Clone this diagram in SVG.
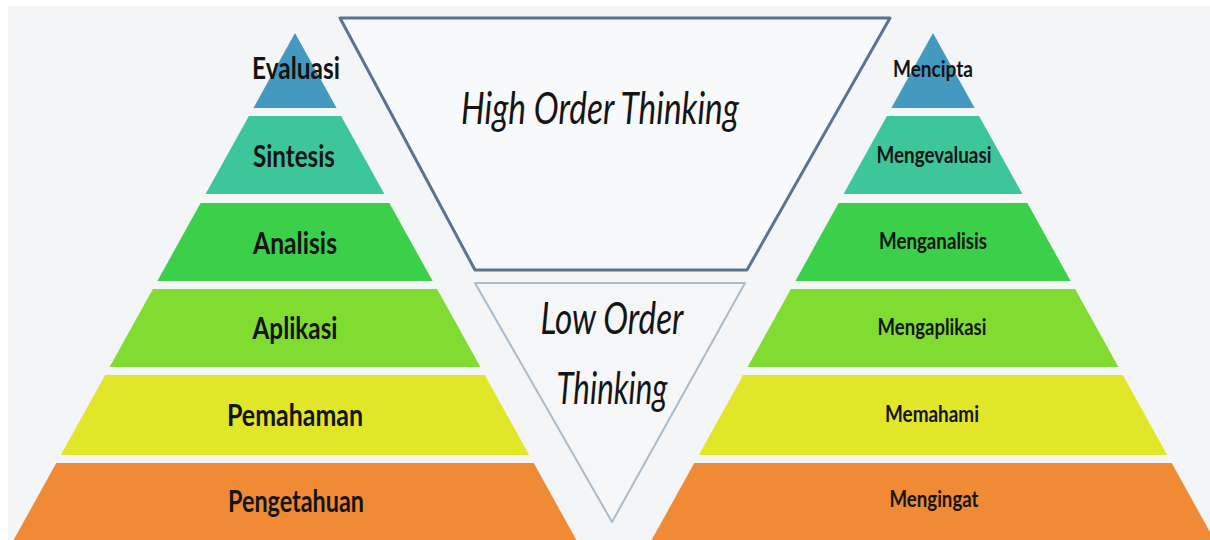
<svg xmlns="http://www.w3.org/2000/svg" width="1210" height="540" viewBox="0 0 1210 540">
<style>
.lbl{font-family:Lato,"Open Sans","Liberation Sans",sans-serif;font-weight:700;fill:#141414;text-anchor:middle}
.l{font-size:31px}
.r{font-size:22px}
.big{font-family:Lato,"Open Sans","Liberation Sans",sans-serif;font-style:italic;font-size:45px;fill:#151515;text-anchor:middle}
.c1{fill:#4499c0}.c2{fill:#3dc69a}.c3{fill:#3ccf4a}.c4{fill:#80dc30}.c5{fill:#e2e628}.c6{fill:#f08a34}
</style>
<rect width="1210" height="540" fill="#ffffff"/>
<rect x="8" y="6" width="1202" height="534" fill="#f4f5f6"/>
<g id="high-order">
<polygon points="340,18 890,18 747,270 475,270" fill="#f8f9fa" stroke="#5a7390" stroke-width="3" stroke-linejoin="round"/>
<text class="big" x="600" y="124" textLength="278" lengthAdjust="spacingAndGlyphs">High Order Thinking</text>
</g>
<g id="low-order">
<polygon points="475,283 745,283 612,522" fill="#f4f6f8" stroke="#a9bccb" stroke-width="2" stroke-linejoin="round"/>
<text class="big" x="612" y="334" textLength="143" lengthAdjust="spacingAndGlyphs">Low Order</text>
<text class="big" x="612" y="404" textLength="111" lengthAdjust="spacingAndGlyphs">Thinking</text>
</g>
<g id="left-pyramid">
<g id="evaluasi"><polygon class="c1" points="295,33 253.4,108 336.6,108"/><text class="lbl l" x="296" y="79" textLength="88" lengthAdjust="spacingAndGlyphs">Evaluasi</text></g>
<g id="sintesis"><polygon class="c2" points="248.9,116 341.1,116 384.4,194 205.6,194"/><text class="lbl l" x="294" y="167" textLength="82" lengthAdjust="spacingAndGlyphs">Sintesis</text></g>
<g id="analisis"><polygon class="c3" points="200.6,203 389.4,203 432.6,281 157.4,281"/><text class="lbl l" x="295" y="254" textLength="84" lengthAdjust="spacingAndGlyphs">Analisis</text></g>
<g id="aplikasi"><polygon class="c4" points="152.9,289 437.1,289 480.4,367 109.6,367"/><text class="lbl l" x="295" y="339" textLength="85" lengthAdjust="spacingAndGlyphs">Aplikasi</text></g>
<g id="pemahaman"><polygon class="c5" points="105.2,375 484.8,375 529.2,455 60.8,455"/><text class="lbl l" x="295" y="426" textLength="136" lengthAdjust="spacingAndGlyphs">Pemahaman</text></g>
<g id="pengetahuan"><polygon class="c6" points="56.3,463 533.7,463 576.4,540 13.6,540"/><text class="lbl l" x="296" y="512" textLength="136" lengthAdjust="spacingAndGlyphs">Pengetahuan</text></g>
</g>
<g id="right-pyramid">
<g id="mencipta"><polygon class="c1" points="933,33 891.4,108 974.6,108"/><text class="lbl r" x="933" y="77" textLength="80" lengthAdjust="spacingAndGlyphs">Mencipta</text></g>
<g id="mengevaluasi"><polygon class="c2" points="886.9,116 979.1,116 1022.4,194 843.6,194"/><text class="lbl r" x="934" y="163" textLength="115" lengthAdjust="spacingAndGlyphs">Mengevaluasi</text></g>
<g id="menganalisis"><polygon class="c3" points="838.6,203 1027.4,203 1070.6,281 795.4,281"/><text class="lbl r" x="933" y="249" textLength="108" lengthAdjust="spacingAndGlyphs">Menganalisis</text></g>
<g id="mengaplikasi"><polygon class="c4" points="790.9,289 1075.1,289 1118.4,367 747.6,367"/><text class="lbl r" x="932" y="335" textLength="109" lengthAdjust="spacingAndGlyphs">Mengaplikasi</text></g>
<g id="memahami"><polygon class="c5" points="743.2,375 1122.8,375 1167.2,455 698.8,455"/><text class="lbl r" x="932" y="422" textLength="94" lengthAdjust="spacingAndGlyphs">Memahami</text></g>
<g id="mengingat"><polygon class="c6" points="694.3,463 1171.7,463 1214.4,540 651.6,540"/><text class="lbl r" x="934" y="507" textLength="89" lengthAdjust="spacingAndGlyphs">Mengingat</text></g>
</g>
<g id="connectors"></g>
</svg>
